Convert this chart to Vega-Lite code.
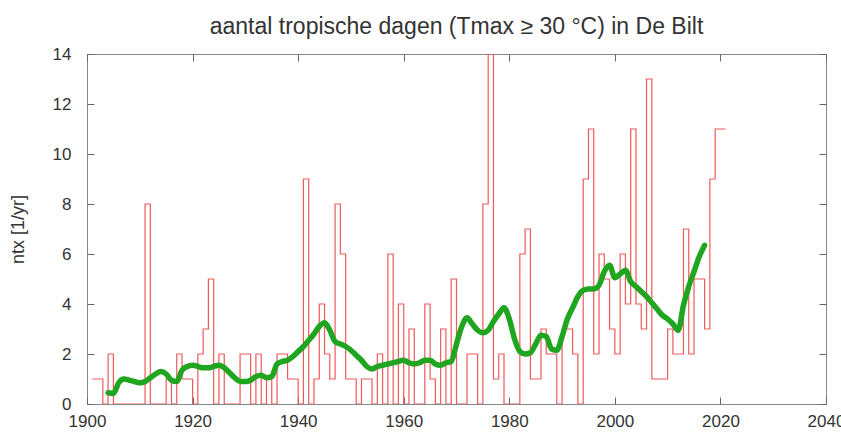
{
  "$schema": "https://vega.github.io/schema/vega-lite/v6.json",
  "width": 739,
  "height": 350,
  "autosize": {"type": "none"},
  "padding": {"left": 87, "top": 54, "right": 15, "bottom": 31},
  "background": "white",
  "config": {
    "view": {"stroke": "#888888", "strokeWidth": 1},
    "font": "Liberation Sans",
    "axis": {
      "grid": false,
      "domain": false,
      "ticks": true,
      "zindex": 1,
      "tickColor": "#666666",
      "tickWidth": 1,
      "tickSize": -7,
      "labelFont": "Liberation Sans",
      "labelFontSize": 17,
      "labelColor": "#333333",
      "titleFont": "Liberation Sans",
      "titleFontSize": 18,
      "titleFontWeight": "normal",
      "titleColor": "#333333"
    }
  },
  "title": {
    "text": "aantal tropische dagen (Tmax ≥ 30 °C) in De Bilt",
    "font": "Liberation Sans",
    "fontSize": 23,
    "fontWeight": "normal",
    "color": "#333333",
    "anchor": "middle",
    "offset": 6
  },
  "datasets": {
    "ntx": [
      {"year": 1901, "ntx": 1}, {"year": 1902, "ntx": 1}, {"year": 1903, "ntx": 0}, {"year": 1904, "ntx": 2},
      {"year": 1905, "ntx": 0}, {"year": 1906, "ntx": 0}, {"year": 1907, "ntx": 0}, {"year": 1908, "ntx": 0},
      {"year": 1909, "ntx": 0}, {"year": 1910, "ntx": 0}, {"year": 1911, "ntx": 8}, {"year": 1912, "ntx": 0},
      {"year": 1913, "ntx": 0}, {"year": 1914, "ntx": 0}, {"year": 1915, "ntx": 1}, {"year": 1916, "ntx": 0},
      {"year": 1917, "ntx": 2}, {"year": 1918, "ntx": 1}, {"year": 1919, "ntx": 1}, {"year": 1920, "ntx": 0},
      {"year": 1921, "ntx": 2}, {"year": 1922, "ntx": 3}, {"year": 1923, "ntx": 5}, {"year": 1924, "ntx": 0},
      {"year": 1925, "ntx": 2}, {"year": 1926, "ntx": 0}, {"year": 1927, "ntx": 0}, {"year": 1928, "ntx": 0},
      {"year": 1929, "ntx": 2}, {"year": 1930, "ntx": 2}, {"year": 1931, "ntx": 0}, {"year": 1932, "ntx": 2},
      {"year": 1933, "ntx": 0}, {"year": 1934, "ntx": 1}, {"year": 1935, "ntx": 0}, {"year": 1936, "ntx": 2},
      {"year": 1937, "ntx": 2}, {"year": 1938, "ntx": 1}, {"year": 1939, "ntx": 1}, {"year": 1940, "ntx": 0},
      {"year": 1941, "ntx": 9}, {"year": 1942, "ntx": 0}, {"year": 1943, "ntx": 1}, {"year": 1944, "ntx": 4},
      {"year": 1945, "ntx": 2}, {"year": 1946, "ntx": 1}, {"year": 1947, "ntx": 8}, {"year": 1948, "ntx": 6},
      {"year": 1949, "ntx": 1}, {"year": 1950, "ntx": 1}, {"year": 1951, "ntx": 0}, {"year": 1952, "ntx": 1},
      {"year": 1953, "ntx": 1}, {"year": 1954, "ntx": 0}, {"year": 1955, "ntx": 2}, {"year": 1956, "ntx": 0},
      {"year": 1957, "ntx": 6}, {"year": 1958, "ntx": 0}, {"year": 1959, "ntx": 4}, {"year": 1960, "ntx": 0},
      {"year": 1961, "ntx": 3}, {"year": 1962, "ntx": 0}, {"year": 1963, "ntx": 0}, {"year": 1964, "ntx": 4},
      {"year": 1965, "ntx": 1}, {"year": 1966, "ntx": 0}, {"year": 1967, "ntx": 3}, {"year": 1968, "ntx": 0},
      {"year": 1969, "ntx": 5}, {"year": 1970, "ntx": 0}, {"year": 1971, "ntx": 0}, {"year": 1972, "ntx": 2},
      {"year": 1973, "ntx": 2}, {"year": 1974, "ntx": 0}, {"year": 1975, "ntx": 8}, {"year": 1976, "ntx": 14},
      {"year": 1977, "ntx": 1}, {"year": 1978, "ntx": 2}, {"year": 1979, "ntx": 0}, {"year": 1980, "ntx": 0},
      {"year": 1981, "ntx": 0}, {"year": 1982, "ntx": 6}, {"year": 1983, "ntx": 7}, {"year": 1984, "ntx": 1},
      {"year": 1985, "ntx": 1}, {"year": 1986, "ntx": 3}, {"year": 1987, "ntx": 2}, {"year": 1988, "ntx": 2},
      {"year": 1989, "ntx": 0}, {"year": 1990, "ntx": 3}, {"year": 1991, "ntx": 3}, {"year": 1992, "ntx": 2},
      {"year": 1993, "ntx": 0}, {"year": 1994, "ntx": 9}, {"year": 1995, "ntx": 11}, {"year": 1996, "ntx": 2},
      {"year": 1997, "ntx": 6}, {"year": 1998, "ntx": 5}, {"year": 1999, "ntx": 3}, {"year": 2000, "ntx": 2},
      {"year": 2001, "ntx": 6}, {"year": 2002, "ntx": 4}, {"year": 2003, "ntx": 11}, {"year": 2004, "ntx": 4},
      {"year": 2005, "ntx": 3}, {"year": 2006, "ntx": 13}, {"year": 2007, "ntx": 1}, {"year": 2008, "ntx": 1},
      {"year": 2009, "ntx": 1}, {"year": 2010, "ntx": 3}, {"year": 2011, "ntx": 2}, {"year": 2012, "ntx": 2},
      {"year": 2013, "ntx": 7}, {"year": 2014, "ntx": 2}, {"year": 2015, "ntx": 5}, {"year": 2016, "ntx": 5},
      {"year": 2017, "ntx": 3}, {"year": 2018, "ntx": 9}, {"year": 2019, "ntx": 11}, {"year": 2020, "ntx": 11},
      {"year": 2021, "ntx": 11}
    ],
    "smooth": [
      {"year": 1904, "ntx": 0.45}, {"year": 1905, "ntx": 0.42}, {"year": 1906, "ntx": 0.85}, {"year": 1907, "ntx": 1.0},
      {"year": 1908, "ntx": 0.95}, {"year": 1909, "ntx": 0.9}, {"year": 1910, "ntx": 0.85}, {"year": 1911, "ntx": 0.9},
      {"year": 1912, "ntx": 1.05}, {"year": 1913, "ntx": 1.2}, {"year": 1914, "ntx": 1.3}, {"year": 1915, "ntx": 1.2},
      {"year": 1916, "ntx": 0.95}, {"year": 1917, "ntx": 0.9}, {"year": 1918, "ntx": 1.35}, {"year": 1919, "ntx": 1.5},
      {"year": 1920, "ntx": 1.55}, {"year": 1921, "ntx": 1.5}, {"year": 1922, "ntx": 1.45}, {"year": 1923, "ntx": 1.45},
      {"year": 1924, "ntx": 1.5}, {"year": 1925, "ntx": 1.55}, {"year": 1926, "ntx": 1.45}, {"year": 1927, "ntx": 1.25},
      {"year": 1928, "ntx": 1.05}, {"year": 1929, "ntx": 0.9}, {"year": 1930, "ntx": 0.9}, {"year": 1931, "ntx": 0.95},
      {"year": 1932, "ntx": 1.1}, {"year": 1933, "ntx": 1.15}, {"year": 1934, "ntx": 1.05}, {"year": 1935, "ntx": 1.1},
      {"year": 1936, "ntx": 1.6}, {"year": 1937, "ntx": 1.7}, {"year": 1938, "ntx": 1.75}, {"year": 1939, "ntx": 1.9},
      {"year": 1940, "ntx": 2.1}, {"year": 1941, "ntx": 2.3}, {"year": 1942, "ntx": 2.55}, {"year": 1943, "ntx": 2.8},
      {"year": 1944, "ntx": 3.1}, {"year": 1945, "ntx": 3.25}, {"year": 1946, "ntx": 2.95}, {"year": 1947, "ntx": 2.5},
      {"year": 1948, "ntx": 2.4}, {"year": 1949, "ntx": 2.3}, {"year": 1950, "ntx": 2.15}, {"year": 1951, "ntx": 1.95},
      {"year": 1952, "ntx": 1.75}, {"year": 1953, "ntx": 1.5}, {"year": 1954, "ntx": 1.4}, {"year": 1955, "ntx": 1.5},
      {"year": 1956, "ntx": 1.55}, {"year": 1957, "ntx": 1.6}, {"year": 1958, "ntx": 1.65}, {"year": 1959, "ntx": 1.7},
      {"year": 1960, "ntx": 1.75}, {"year": 1961, "ntx": 1.65}, {"year": 1962, "ntx": 1.6}, {"year": 1963, "ntx": 1.65},
      {"year": 1964, "ntx": 1.75}, {"year": 1965, "ntx": 1.75}, {"year": 1966, "ntx": 1.6}, {"year": 1967, "ntx": 1.55},
      {"year": 1968, "ntx": 1.65}, {"year": 1969, "ntx": 1.7}, {"year": 1970, "ntx": 2.4}, {"year": 1971, "ntx": 3.1},
      {"year": 1972, "ntx": 3.45}, {"year": 1973, "ntx": 3.2}, {"year": 1974, "ntx": 2.95}, {"year": 1975, "ntx": 2.85},
      {"year": 1976, "ntx": 2.95}, {"year": 1977, "ntx": 3.3}, {"year": 1978, "ntx": 3.6}, {"year": 1979, "ntx": 3.85},
      {"year": 1980, "ntx": 3.4}, {"year": 1981, "ntx": 2.6}, {"year": 1982, "ntx": 2.1}, {"year": 1983, "ntx": 2.0},
      {"year": 1984, "ntx": 2.05}, {"year": 1985, "ntx": 2.4}, {"year": 1986, "ntx": 2.75}, {"year": 1987, "ntx": 2.7},
      {"year": 1988, "ntx": 2.2}, {"year": 1989, "ntx": 2.15}, {"year": 1990, "ntx": 2.7}, {"year": 1991, "ntx": 3.4},
      {"year": 1992, "ntx": 3.85}, {"year": 1993, "ntx": 4.3}, {"year": 1994, "ntx": 4.55}, {"year": 1995, "ntx": 4.6},
      {"year": 1996, "ntx": 4.6}, {"year": 1997, "ntx": 4.75}, {"year": 1998, "ntx": 5.3}, {"year": 1999, "ntx": 5.55},
      {"year": 2000, "ntx": 5.05}, {"year": 2001, "ntx": 5.2}, {"year": 2002, "ntx": 5.35}, {"year": 2003, "ntx": 4.9},
      {"year": 2004, "ntx": 4.7}, {"year": 2005, "ntx": 4.5}, {"year": 2006, "ntx": 4.3}, {"year": 2007, "ntx": 4.05},
      {"year": 2008, "ntx": 3.8}, {"year": 2009, "ntx": 3.55}, {"year": 2010, "ntx": 3.4}, {"year": 2011, "ntx": 3.2},
      {"year": 2012, "ntx": 2.95}, {"year": 2013, "ntx": 3.95}, {"year": 2014, "ntx": 4.7}, {"year": 2015, "ntx": 5.3},
      {"year": 2016, "ntx": 5.9}, {"year": 2017, "ntx": 6.35}
    ]
  },
  "layer": [
    {
      "data": {"name": "ntx"},
      "mark": {"type": "line", "interpolate": "step-after", "color": "#ee5a5a", "strokeWidth": 1.2, "clip": true},
      "encoding": {
        "x": {
          "field": "year", "type": "quantitative",
          "scale": {"domain": [1900, 2040], "nice": false, "zero": false},
          "axis": {"orient": "bottom", "title": null, "values": [1900, 1920, 1940, 1960, 1980, 2000, 2020, 2040], "format": "d", "labelPadding": 16, "labelFlush": false}
        },
        "y": {
          "field": "ntx", "type": "quantitative",
          "scale": {"domain": [0, 14], "nice": false},
          "axis": {
            "orient": "left", "title": "ntx [1/yr]", "values": [0, 2, 4, 6, 8, 10, 12, 14], "labelPadding": 23,
            "titleAngle": -90, "titleX": -69, "titleY": 175, "titleAlign": "center", "titleBaseline": "middle"
          }
        }
      }
    },
    {
      "data": {"name": "smooth"},
      "mark": {"type": "line", "color": "#1fa51f", "strokeWidth": 5.5, "strokeCap": "round", "strokeJoin": "round", "interpolate": "monotone"},
      "encoding": {
        "x": {
          "field": "year", "type": "quantitative",
          "axis": {"orient": "top", "title": null, "labels": false, "values": [1900, 1920, 1940, 1960, 1980, 2000, 2020, 2040]}
        },
        "y": {
          "field": "ntx", "type": "quantitative",
          "axis": {"orient": "right", "title": null, "labels": false, "values": [0, 2, 4, 6, 8, 10, 12, 14]}
        }
      }
    }
  ],
  "resolve": {"axis": {"x": "independent", "y": "independent"}}
}
